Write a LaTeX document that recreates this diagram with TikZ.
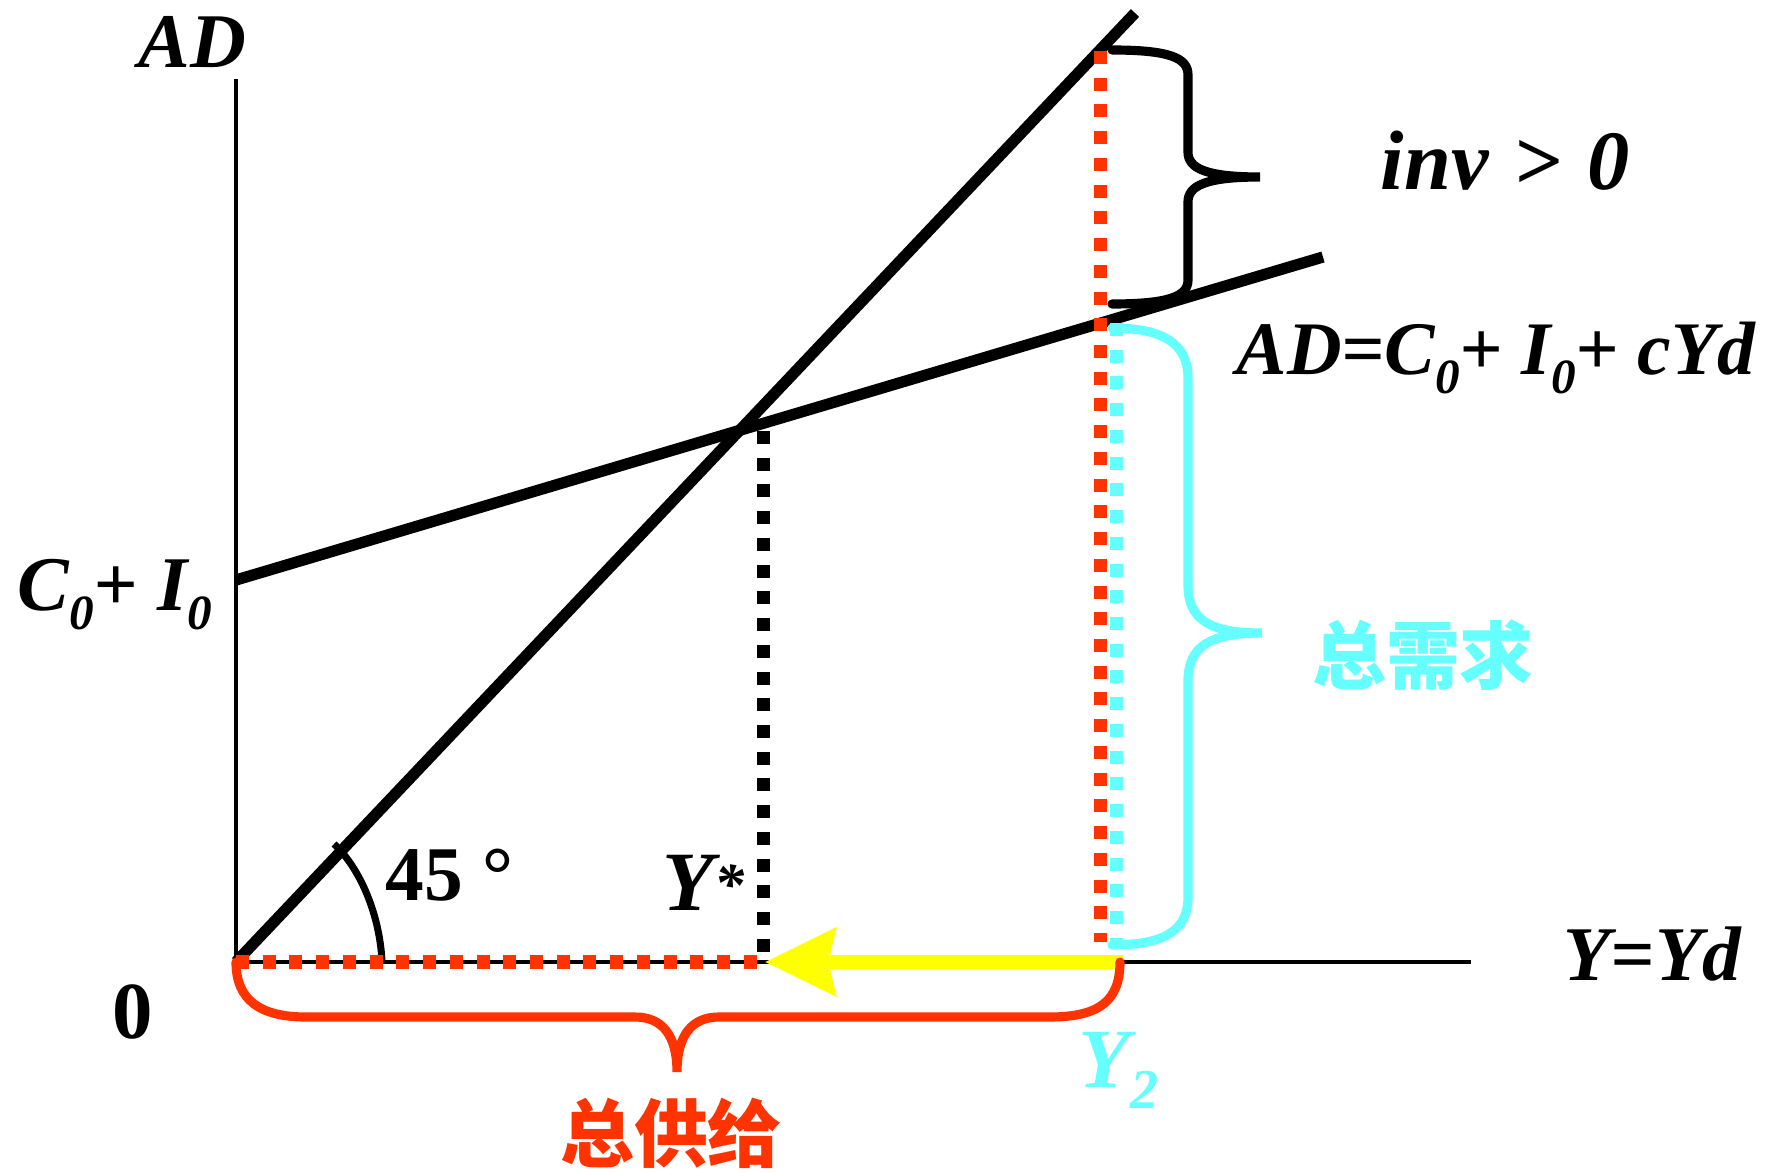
\documentclass[tikz,border=0pt]{standalone}
\usepackage{fontspec}
\setmainfont{Liberation Serif}
\newfontfamily\cjk{Noto Sans CJK SC}
\usetikzlibrary{arrows.meta}
\definecolor{myred}{HTML}{FF3300}
\definecolor{mycyan}{HTML}{66FFFF}
\definecolor{myyellow}{HTML}{FFFF00}
\newcommand\subz{\raisebox{-5.5pt}{\fontsize{14}{14}\selectfont 0}}
\begin{document}
\begin{tikzpicture}[x=0.01cm,y=-0.01cm,
  lbl/.style={font=\fontsize{22}{26}\selectfont\bfseries\itshape, inner sep=0pt, anchor=base west},
  biglbl/.style={font=\fontsize{24}{28}\selectfont\bfseries\itshape, inner sep=0pt, anchor=base west},
  cjklbl/.style={font=\fontsize{21}{25}\selectfont\cjk\bfseries, inner sep=0pt, anchor=center},
  axisline/.style={line width=1.4pt},
  mainline/.style={line width=3.2pt},
  sqdot/.style={line width=3.7pt, dash pattern=on 3.7pt off 3.9pt},
  bracebl/.style={line width=2.6pt, line cap=round},
]
\path[use as bounding box] (0,0) rectangle (1778,1173);

% coordinates
\coordinate (O) at (236,962);
\coordinate (ytop) at (236,79);
\coordinate (xend) at (1471,962);
\coordinate (l45end) at (1135,13);
\coordinate (adstart) at (236,580);
\coordinate (adend) at (1323,257);
\coordinate (arcA) at (382,962);
\coordinate (arcB) at (334,844);
\coordinate (ystarTop) at (763,431);
\coordinate (ystarBot) at (763,962);
\coordinate (redHend) at (770,962);
\coordinate (redVtop) at (1100,51);
\coordinate (redVbot) at (1100,942);
\coordinate (cyVtop) at (1116,323);
\coordinate (cyVbot) at (1116,942);
\coordinate (yelStart) at (1123,962);
\coordinate (yelEnd) at (765,962);

% axes and lines
\draw[axisline] (ytop) -- (O) -- (xend);
\draw[mainline] (O) -- (l45end);
\draw[mainline] (adstart) -- (adend);
\draw[line width=2pt] (arcA) .. controls (380,915) and (360,868) .. (arcB);

% dotted lines
\draw[sqdot, black] (ystarTop) -- (ystarBot);
\draw[sqdot, myred] (O) -- (redHend);
\draw[sqdot, myred] (redVtop) -- (redVbot);
\draw[sqdot, mycyan] (cyVtop) -- (cyVbot);

% yellow arrow
\draw[myyellow, line width=3.7pt, -{Stealth[length=20pt,width=19pt,inset=2pt]}] (yelStart) -- (yelEnd);

% black brace
\draw[bracebl] (1112,50) .. controls (1170,50) and (1188,58) .. (1188,75) -- (1188,152)
  .. controls (1188,168) and (1205,177) .. (1260,177)
  .. controls (1205,177) and (1188,186) .. (1188,202) -- (1188,280)
  .. controls (1188,296) and (1170,304) .. (1112,304);

% cyan brace
\draw[bracebl, mycyan] (1112,328) .. controls (1165,328) and (1188,345) .. (1188,378) -- (1188,585)
  .. controls (1188,620) and (1210,633) .. (1262,633)
  .. controls (1210,633) and (1188,646) .. (1188,681) -- (1188,897)
  .. controls (1188,930) and (1165,945) .. (1112,945);

% red brace
\draw[bracebl, myred] (O) .. controls (236,1000) and (260,1017) .. (306,1017) -- (635,1017)
  .. controls (662,1017) and (677,1035) .. (677,1072)
  .. controls (677,1035) and (692,1017) .. (719,1017) -- (1050,1017)
  .. controls (1100,1017) and (1120,1000) .. (1120,962);

% labels
\node[lbl] (tAD) at (138,68) {AD};
\node[biglbl] (tinv) at (1380,190) {inv\hspace{0.3em}>\hspace{0.3em}0};
\node[lbl, font=\fontsize{21.5}{26}\selectfont\bfseries\itshape] (tADeq) at (1236,374) {AD=C\subz+ I\subz+ cYd};
\node[lbl] (tC0) at (17,610) {C\subz+ I\subz};
\node[lbl, font=\fontsize{22}{26}\selectfont\bfseries] (t45) at (385,900) {45 °};
\node[biglbl] (tYstar) at (662,910) {Y\raisebox{1.5pt}{\fontsize{17}{17}\selectfont *}};
\node[font=\fontsize{23}{27}\selectfont\bfseries, inner sep=0pt, anchor=base] (tzero) at (133,1038) {0};
\node[lbl] (tYYd) at (1563,980) {Y=Yd};
\node[biglbl, text=mycyan] (tY2) at (1078,1087) {Y\raisebox{-6pt}{\fontsize{16}{16}\selectfont 2}};
\node[cjklbl, text=mycyan] (tdemand) at (1423,655) {总需求};
\node[cjklbl, text=myred] (tsupply) at (671,1133) {总供给};
\end{tikzpicture}
\end{document}
